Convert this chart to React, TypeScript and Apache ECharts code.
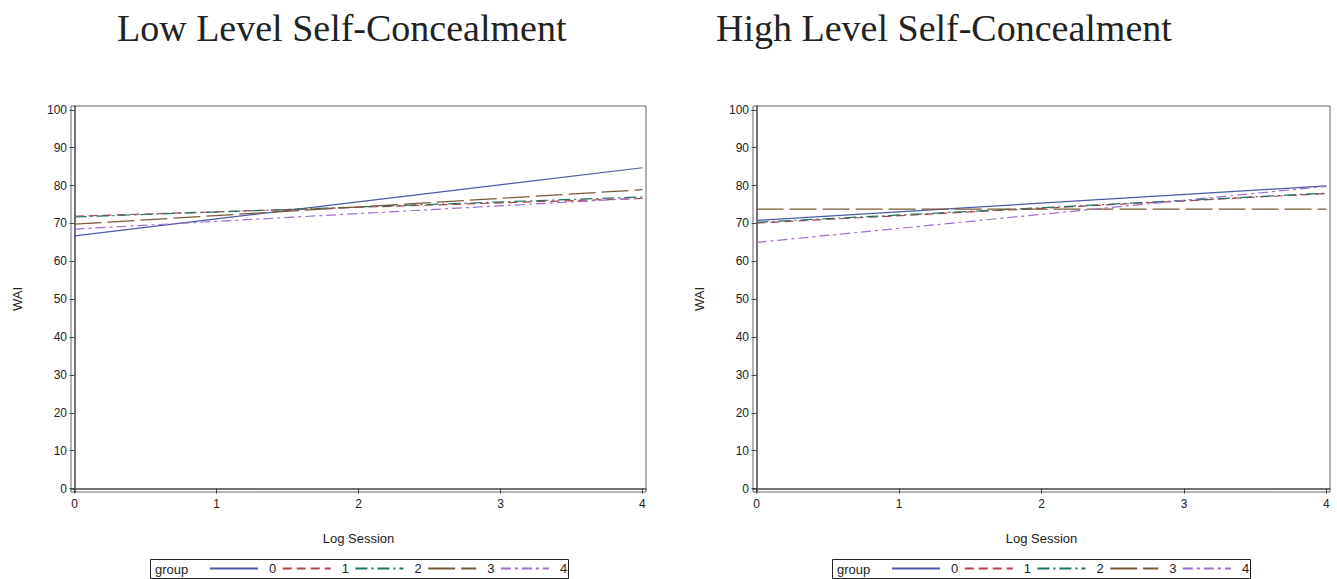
import React, { useEffect, useRef } from "react";
import * as echarts from "echarts";

const titles = ["Low Level Self-Concealment", "High Level Self-Concealment"];
const groups = ["0", "1", "2", "3", "4"];
const logSession = [0, 4];
const xTicks = [0, 1, 2, 3, 4];
const yTicks = [0, 10, 20, 30, 40, 50, 60, 70, 80, 90, 100];

// WAI at log session 0 and 4, per group
const lowWAI = [
  [66.7, 84.7],
  [71.9, 76.6],
  [71.7, 77.0],
  [69.8, 78.9],
  [68.5, 76.7],
];
const highWAI = [
  [70.8, 79.9],
  [70.1, 77.9],
  [70.3, 78.0],
  [73.8, 73.8],
  [65.0, 79.8],
];

const colors = ["#4a5aa8", "#b2404a", "#1f7468", "#7a5a36", "#9f6fd0"];
const dashes: any[] = ["solid", [9, 5], [12, 4, 2, 4], [27, 6], [10, 4, 3, 4]];

export default function App() {
  const ref = useRef<HTMLDivElement>(null);
  useEffect(() => {
    const chart = echarts.init(ref.current!, null, { renderer: "svg" });
    const grids = [
      { left: 71, right: 1337 - 646, top: 106, bottom: 579 - 492 },
      { left: 753, right: 1337 - 1330, top: 106, bottom: 579 - 492 },
    ];
    const font = "Liberation Sans, Arial, sans-serif";
    const xAxes = grids.map((_, i) => ({
      type: "value",
      gridIndex: i,
      min: -0.025,
      max: 4.025,
      name: "Log Session",
      nameLocation: "middle",
      nameGap: 40,
      nameTextStyle: { fontFamily: font, fontSize: 13, color: "#222" },
      axisLine: { show: true, lineStyle: { color: "#444", width: 1.5 } },
      axisTick: { show: true, length: 5, customValues: xTicks, lineStyle: { color: "#444" } },
      axisLabel: { customValues: xTicks, fontFamily: font, fontSize: 12, color: "#222", margin: 6 },
      splitLine: { show: false },
    }));
    const yAxes = grids.map((_, i) => ({
      type: "value",
      gridIndex: i,
      min: -0.9,
      max: 101,
      name: "WAI",
      nameLocation: "middle",
      nameGap: 47,
      nameRotate: 90,
      nameTextStyle: { fontFamily: font, fontSize: 13, color: "#222" },
      axisLine: { show: true, lineStyle: { color: "#444", width: 1.5 } },
      axisTick: { show: true, length: 5, customValues: yTicks, lineStyle: { color: "#444" } },
      axisLabel: { customValues: yTicks, fontFamily: font, fontSize: 12, color: "#222", margin: 4 },
      splitLine: { show: false },
    }));
    const series: any[] = [];
    [lowWAI, highWAI].forEach((data, gi) => {
      groups.forEach((g, k) => {
        series.push({
          type: "line",
          name: g,
          xAxisIndex: gi,
          yAxisIndex: gi,
          symbol: "none",
          data: logSession.map((x, j) => [x, data[k][j]]),
          lineStyle: { color: colors[k], width: 1.2, type: dashes[k] },
          itemStyle: { color: colors[k] },
        });
      });
    });
    const legendBase = {
      data: groups,
      top: 562,
      itemWidth: 48,
      itemHeight: 14,
      itemGap: 5.5,
      padding: 0,
      itemStyle: { opacity: 0 },
      textStyle: { fontFamily: font, fontSize: 13, color: "#222", padding: [0, 0, 0, 6] },
      selectedMode: false,
    };
    const titleStyle = {
      fontFamily: "Liberation Serif, Times New Roman, serif",
      fontSize: 38,
      fontWeight: "normal",
      color: "#222",
    };
    chart.setOption({
      animation: false,
      title: [
        { text: titles[0], left: 112, top: 4, textStyle: titleStyle },
        { text: titles[1], left: 711, top: 4, textStyle: titleStyle },
      ],
      grid: grids.map((g) => ({ ...g, show: true, borderColor: "#666", borderWidth: 1 })),
      xAxis: xAxes,
      yAxis: yAxes,
      legend: [
        { ...legendBase, left: 209 },
        { ...legendBase, left: 891 },
      ],
      graphic: [
        { type: "rect", shape: { x: 150.5, y: 559.5, width: 418, height: 19 }, style: { fill: "none", stroke: "#222", lineWidth: 1 } },
        { type: "text", x: 155, y: 563, style: { text: "group", fontFamily: font, fontSize: 13, fill: "#222" } },
        { type: "rect", shape: { x: 832.5, y: 559.5, width: 418, height: 19 }, style: { fill: "none", stroke: "#222", lineWidth: 1 } },
        { type: "text", x: 837, y: 563, style: { text: "group", fontFamily: font, fontSize: 13, fill: "#222" } },
      ],
      series,
    });
    return () => chart.dispose();
  }, []);
  return <div ref={ref} style={{ position: "fixed", left: 0, top: 0, width: 1337, height: 579, background: "#fff" }} />;
}
